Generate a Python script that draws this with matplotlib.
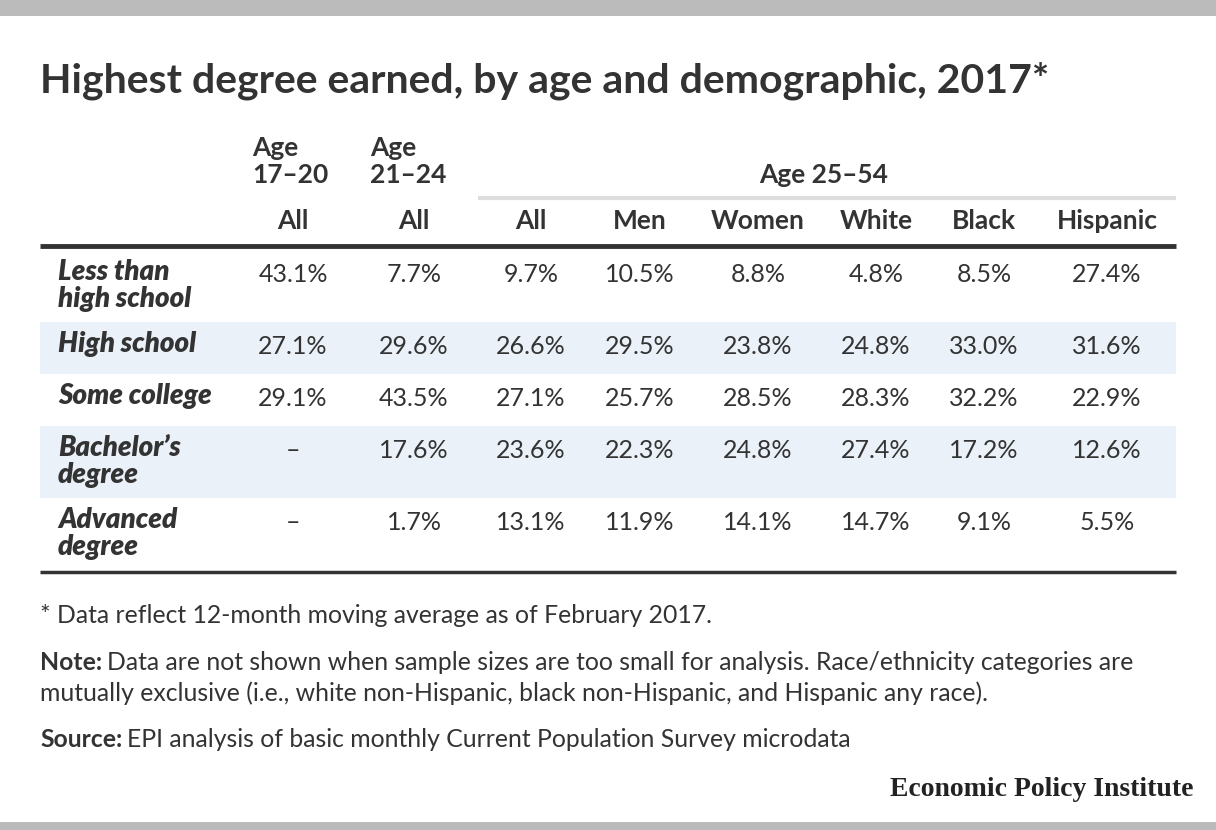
import matplotlib
matplotlib.use("Agg")
import matplotlib.pyplot as plt

# table data
rows = ["Less than\nhigh school", "High school", "Some college",
        "Bachelor\u2019s\ndegree", "Advanced\ndegree"]
groups = ["Age\n17\u201320", "Age\n21\u201324"]
span_group = "Age 25\u201354"
cols = ["All", "All", "All", "Men", "Women", "White", "Black", "Hispanic"]
vals = [
    ["43.1%", "7.7%", "9.7%", "10.5%", "8.8%", "4.8%", "8.5%", "27.4%"],
    ["27.1%", "29.6%", "26.6%", "29.5%", "23.8%", "24.8%", "33.0%", "31.6%"],
    ["29.1%", "43.5%", "27.1%", "25.7%", "28.5%", "28.3%", "32.2%", "22.9%"],
    ["\u2013", "17.6%", "23.6%", "22.3%", "24.8%", "27.4%", "17.2%", "12.6%"],
    ["\u2013", "1.7%", "13.1%", "11.9%", "14.1%", "14.7%", "9.1%", "5.5%"],
]

title = "Highest degree earned, by age and demographic, 2017*"
footnote = "* Data reflect 12-month moving average as of February 2017."
note = ["Data are not shown when sample sizes are too small for analysis. "
        "Race/ethnicity categories are",
        "mutually exclusive (i.e., white non-Hispanic, black non-Hispanic, "
        "and Hispanic any race)."]
source = "EPI analysis of basic monthly Current Population Survey microdata"

TXT = "#333333"
SHADE = "#eaf1f9"
FONT = "Lato"

col_x = [293, 414, 531, 640, 758, 876, 984, 1107]
group_x = [252, 370]
row_top = [250, 322, 374, 426, 498]
row_bot = [322, 374, 426, 498, 570]
LINE = 27

fig = plt.figure(figsize=(12.16, 8.3), dpi=100)
ax = fig.add_axes([0, 0, 1, 1])
ax.set_xlim(0, 1216)
ax.set_ylim(830, 0)
ax.axis("off")
renderer = fig.canvas.get_renderer()

# frame bars
ax.axhspan(0, 16, color="#bbbbbb", lw=0)
ax.axhspan(822, 830, color="#bbbbbb", lw=0)

ax.text(40, 81, title, fontsize=29.5, fontweight="bold", color=TXT,
        family=FONT, va="center")

# group headers
for gx, g in zip(group_x, groups):
    for k, line in enumerate(g.split("\n")):
        ax.text(gx, 148 + k * LINE, line, fontsize=19, fontweight="bold",
                color=TXT, family=FONT, va="center", ha="left")
ax.text(824, 175, span_group, fontsize=19, fontweight="bold",
        color=TXT, family=FONT, va="center", ha="center")
ax.plot([478, 1176], [198, 198], color="#dddddd", lw=3, solid_capstyle="butt")

for cx, c in zip(col_x, cols):
    ax.text(cx, 221, c, fontsize=19, fontweight="bold", color=TXT,
            family=FONT, va="center", ha="center")

ax.plot([40, 1176], [246.5, 246.5], color=TXT, lw=3.5, solid_capstyle="butt")

for i, (r, row) in enumerate(zip(rows, vals)):
    if i % 2 == 1:
        ax.fill_between([40, 1176], row_top[i], row_bot[i], color=SHADE, lw=0)
    first = row_top[i] + 22
    for k, line in enumerate(r.split("\n")):
        ax.text(58, first + k * LINE, line, fontsize=20, fontweight="heavy",
                style="italic", color=TXT, family=FONT, va="center", ha="left")
    for cx, v in zip(col_x, row):
        ax.text(cx, first + 2, v, fontsize=18, color=TXT,
                family=FONT, va="center", ha="center")

ax.plot([40, 1176], [572, 572], color=TXT, lw=2.5, solid_capstyle="butt")


def labelled(y, label, body):
    t = ax.text(40, y, label, fontsize=17.8, fontweight="bold", color=TXT,
                family=FONT, va="center")
    x1 = t.get_window_extent(renderer).x1
    ax.text(x1 + 5, y, body, fontsize=17.8, color=TXT, family=FONT, va="center")


# notes
ax.text(40, 615, footnote, fontsize=17.8, color=TXT, family=FONT, va="center")
labelled(662, "Note:", note[0])
ax.text(40, 693, note[1], fontsize=17.8, color=TXT, family=FONT, va="center")
labelled(739, "Source:", source)

ax.text(1193, 789, "Economic Policy Institute", fontsize=20, fontweight="bold",
        color="#222222", family="Liberation Serif", va="center", ha="right")

fig.savefig("out.png", dpi=100)
